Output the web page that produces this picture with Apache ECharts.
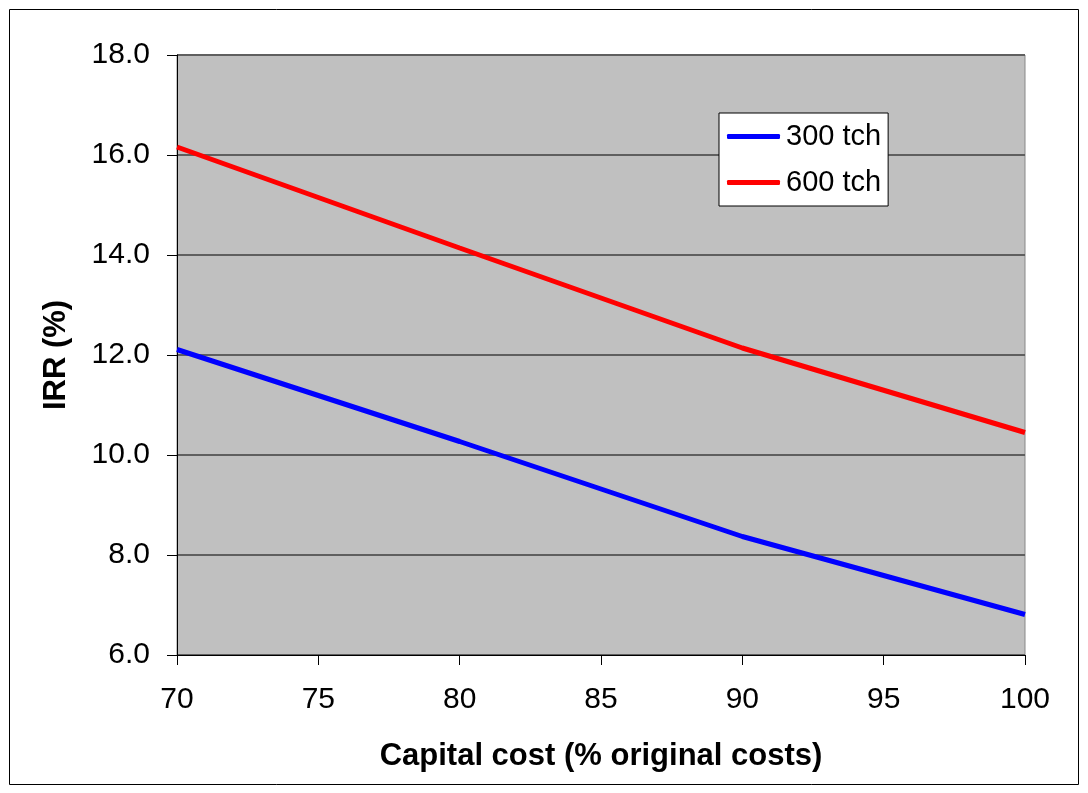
<!DOCTYPE html>
<html>
<head>
<meta charset="utf-8">
<script src="https://cdn.jsdelivr.net/npm/echarts@6/dist/echarts.min.js"></script>
<style>
html,body{margin:0;padding:0;background:#fff;}
#chart{width:1088px;height:793px;}
</style>
</head>
<body>
<div id="chart"></div>
<script>
// Capital cost as a share of the original estimate (%)
const capitalCost = [70, 80, 90, 100];
// IRR (%) for each plant size
const irr300 = [12.11, 10.27, 8.37, 6.81];
const irr600 = [16.16, 14.14, 12.14, 10.45];
const seriesNames = ['300 tch', '600 tch'];

const font = 'Liberation Sans, Arial, sans-serif';
const chart = echarts.init(document.getElementById('chart'), null, {renderer: 'canvas'});

const pairs = (xs, ys) => xs.map((x, i) => [x, ys[i]]);

chart.setOption({
  animation: false,
  backgroundColor: '#ffffff',
  graphic: [{
    type: 'rect',
    shape: {x: 9.5, y: 9.5, width: 1069, height: 775},
    style: {fill: 'none', stroke: '#000', lineWidth: 1},
    silent: true, z: -10
  }],
  grid: {left: 177, top: 55, width: 848, height: 600,
         show: true, backgroundColor: '#c0c0c0', borderColor: '#888', borderWidth: 1},
  legend: {
    orient: 'vertical', left: 719, top: 113,
    padding: [9, 7, 9, 8], itemGap: 17,
    backgroundColor: '#fff', borderColor: '#000', borderWidth: 1,
    itemWidth: 53, itemHeight: 5, icon: 'roundRect',
    textStyle: {fontFamily: font, fontSize: 29, color: '#000', padding: [0, 0, 0, 1]},
    data: seriesNames
  },
  xAxis: {
    type: 'value', min: 70, max: 100, interval: 5,
    name: 'Capital cost (% original costs)', nameLocation: 'middle', nameGap: 86,
    nameTextStyle: {fontFamily: font, fontSize: 31, fontWeight: 'bold', color: '#000'},
    axisLine: {show: true, onZero: false, lineStyle: {color: '#000', width: 1}},
    axisTick: {show: true, length: 10, lineStyle: {color: '#000'}},
    axisLabel: {fontFamily: font, fontSize: 30, color: '#000', margin: 30},
    splitLine: {show: false}
  },
  yAxis: {
    type: 'value', min: 6, max: 18, interval: 2,
    name: 'IRR (%)', nameLocation: 'middle', nameGap: 105, nameRotate: 90,
    nameTextStyle: {fontFamily: font, fontSize: 31, fontWeight: 'bold', color: '#000'},
    axisLine: {show: true, lineStyle: {color: '#000', width: 1}},
    axisTick: {show: true, length: 10, lineStyle: {color: '#000'}},
    axisLabel: {fontFamily: font, fontSize: 30, color: '#000', margin: 27,
                formatter: v => v.toFixed(1)},
    splitLine: {show: true, lineStyle: {color: '#5f5f5f', width: 2}}
  },
  series: [
    {name: seriesNames[0], type: 'line', data: pairs(capitalCost, irr300),
     showSymbol: false, symbol: 'none', color: '#0000ff',
     lineStyle: {color: '#0000ff', width: 5}},
    {name: seriesNames[1], type: 'line', data: pairs(capitalCost, irr600),
     showSymbol: false, symbol: 'none', color: '#ff0000',
     lineStyle: {color: '#ff0000', width: 5}}
  ]
});
</script>
</body>
</html>
